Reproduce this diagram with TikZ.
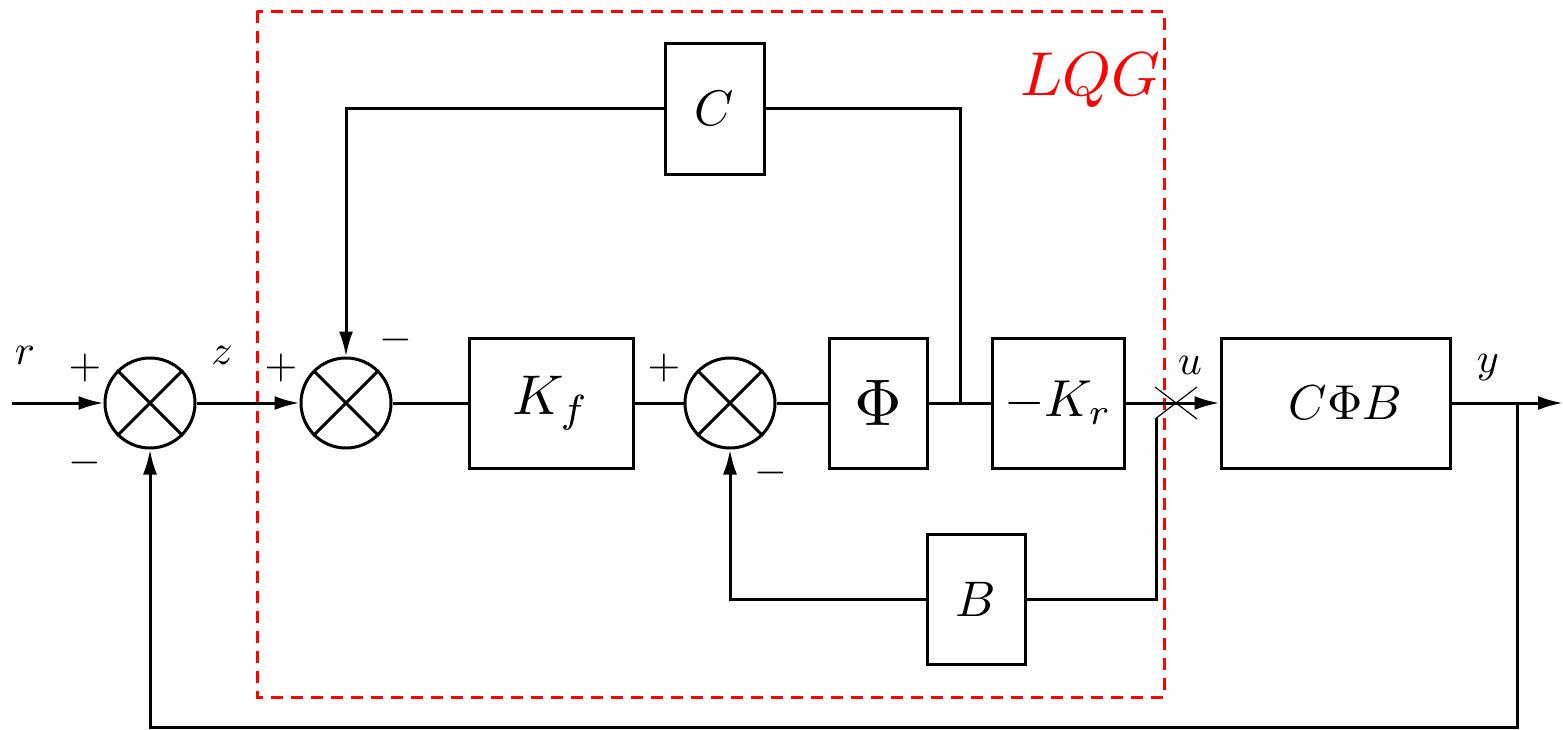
\documentclass[tikz,border=0pt]{standalone}
\usepackage{graphicx}
\usetikzlibrary{arrows.meta,calc}
\newcommand{\Sc}[2]{\scalebox{#1}{#2}}
\tikzset{
  sig/.style={line width=1.5pt},
  arr/.style={sig,-{Latex[length=12.5pt,width=7pt]}},
  sumnode/.style={circle,draw,line width=1.5pt,minimum size=45pt,inner sep=0pt},
  blockbox/.style={draw,line width=1.5pt,inner sep=0pt,minimum height=65pt},
  lab/.style={inner sep=0pt}
}
\begin{document}
\begin{tikzpicture}[x=0.5pt,y=-0.5pt]
\useasboundingbox (0,0) rectangle (1563,729);
% red LQG frame
\draw[red,line width=1.5pt,dash pattern=on 6pt off 4pt] (257,11) rectangle (1164,697);
\node[text=red,inner sep=0pt] (lqg) at (1090,80) {\Sc{3.1}{$LQG$}};
% sums
\node[sumnode] (s1) at (150,403) {};
\node[sumnode] (s2) at (346,403) {};
\node[sumnode] (s3) at (730,403) {};
\foreach \s in {s1,s2,s3}{
  \draw[sig] (\s.north east) -- (\s.south west);
  \draw[sig] (\s.north west) -- (\s.south east);
}
% blocks
\node[blockbox,minimum width=82pt] (kf) at (551,403) {\Sc{2.8}{$K_f$}};
\node[blockbox,minimum width=49pt] (phi) at (878,403) {\Sc{3.3}{$\Phi$}};
\node[blockbox,minimum width=66pt] (kr) at (1058,403) {\Sc{2.6}{$-K_r$}};
\node[blockbox,minimum width=114.5pt] (cpb) at (1335.5,403) {\hspace*{10pt}\Sc{2.45}{$C\Phi B$}};
\node[blockbox,minimum width=49.5pt,minimum height=65.5pt] (cb) at (714.5,108.5) {\Sc{2.5}{$C$}};
\node[blockbox,minimum width=49pt] (bb) at (976,599) {\Sc{2.5}{$B$}};
% coordinates
\coordinate (in) at (12,403);
\coordinate (out) at (1563,403);
\coordinate (tapC) at (960,403);
\coordinate (tapY) at (1517,403);
\coordinate (xc) at (1176,403);
\coordinate (tapB) at (1156,418);
% forward path
\draw[arr] (in) -- (s1.west);
\draw[arr] (s1.east) -- (s2.west);
\draw[sig] (s2.east) -- (kf.west);
\draw[sig] (kf.east) -- (s3.west);
\draw[sig] (s3.east) -- (phi.west);
\draw[sig] (phi.east) -- (kr.west);
\draw[arr] (kr.east) -- (cpb.west);
\draw[arr] (cpb.east) -- (out);
% C loop
\draw[sig] (tapC) |- (cb.east);
\draw[arr] (cb.west) -| (s2.north);
% B loop
\draw[sig] (tapB) |- (bb.east);
\draw[arr] (bb.west) -| (s3.south);
% outer loop
\draw[arr] (tapY) -- (1517,727) -| (s1.south);
% cross at u
\draw[line width=0.6pt] ($(xc)+(-21,-16)$) -- ($(xc)+(21,16)$);
\draw[line width=0.6pt] ($(xc)+(-21,16)$) -- ($(xc)+(21,-16)$);
% labels
\node[lab] (lr) at (25,355) {\Sc{2.1}{$r$}};
\node[lab] (p1) at (85,368) {\Sc{2.1}{$+$}};
\node[lab] (m1) at (85,463) {\Sc{2.1}{$-$}};
\node[lab] (lz) at (222,355) {\Sc{2.1}{$z$}};
\node[lab] (p2) at (281,368) {\Sc{2.1}{$+$}};
\node[lab] (m2) at (396,340) {\Sc{2.1}{$-$}};
\node[lab] (p3) at (664,368) {\Sc{2.1}{$+$}};
\node[lab] (m3) at (771,473) {\Sc{2.1}{$-$}};
\node[lab] (lu) at (1190,365) {\Sc{2.1}{$u$}};
\node[lab] (ly) at (1488,368) {\Sc{2.1}{$y$}};
\end{tikzpicture}
\end{document}
